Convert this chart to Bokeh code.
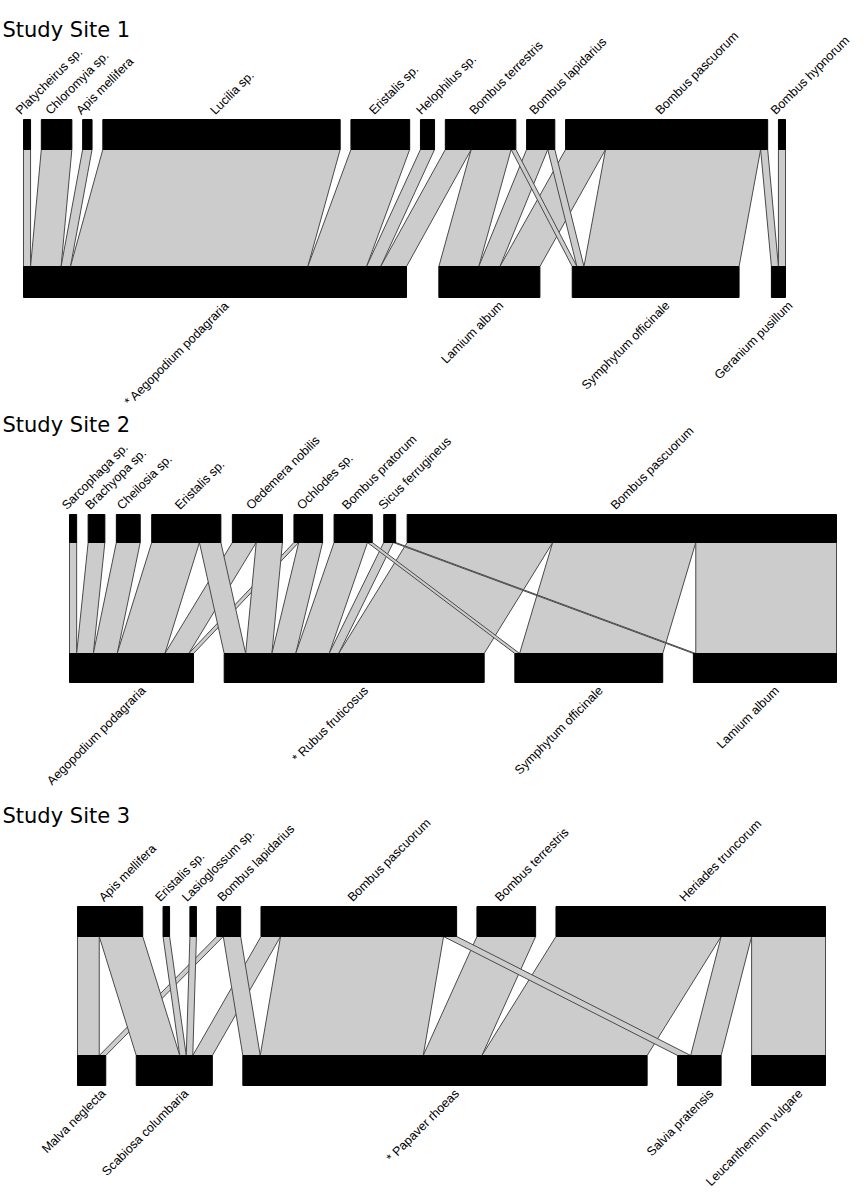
import numpy as np
from bokeh.plotting import figure
from bokeh.models import Range1d, ColumnDataSource
from bokeh.embed import file_html
from bokeh.resources import INLINE
from bokeh.core.properties import value

W, H = 851, 1188

# ---------------- data ----------------
site_titles = ["Study Site 1", "Study Site 2", "Study Site 3"]

site1_pollinators = ["Platycheirus sp.", "Chloromyia sp.", "Apis mellifera", "Lucilia sp.",
                     "Eristalis sp.", "Helophilus sp.", "Bombus terrestris", "Bombus lapidarius",
                     "Bombus pascuorum", "Bombus hypnorum"]
site1_plants = ["* Aegopodium podagraria", "Lamium album", "Symphytum officinale", "Geranium pusillum"]
# rows = plants, columns = pollinators (visits)
site1_visits = [
    [3, 13, 4, 101, 25, 6, 11, 0, 0, 0],
    [0, 0, 0, 0, 0, 0, 17, 9, 17, 0],
    [0, 0, 0, 0, 0, 0, 2, 3, 66, 0],
    [0, 0, 0, 0, 0, 0, 0, 0, 3, 3],
]

site2_pollinators = ["Sarcophaga sp.", "Brachyopa sp.", "Cheilosia sp.", "Eristalis sp.",
                     "Oedemera nobilis", "Ochlodes sp.", "Bombus pratorum", "Sicus ferrugineus",
                     "Bombus pascuorum"]
site2_plants = ["Aegopodium podagraria", "* Rubus fruticosus", "Symphytum officinale", "Lamium album"]
site2_visits = [
    [3, 7, 10, 20, 10, 2, 0, 0, 0],
    [0, 0, 0, 9, 11, 10, 14, 4, 61],
    [0, 0, 0, 0, 0, 0, 2, 0, 60],
    [0, 0, 0, 0, 0, 0, 0, 1, 59],
]

site3_pollinators = ["Apis mellifera", "Eristalis sp.", "Lasioglossum  sp.", "Bombus lapidarius",
                     "Bombus pascuorum", "Bombus terrestris", "Heriades truncorum"]
site3_plants = ["Malva neglecta", "Scabiosa columbaria", "* Papaver rhoeas", "Salvia pratensis",
                "Leucanthemum vulgare"]
site3_visits = [
    [10, 0, 0, 3, 0, 0, 0],
    [20, 3, 3, 0, 9, 0, 0],
    [0, 0, 0, 8, 75, 27, 76],
    [0, 0, 0, 0, 6, 0, 14],
    [0, 0, 0, 0, 0, 0, 34],
]

sites = [
    (site1_pollinators, site1_plants, site1_visits),
    (site2_pollinators, site2_plants, site2_visits),
    (site3_pollinators, site3_plants, site3_visits),
]

# ---------------- layout (styles / positions) ----------------
layouts = [
    dict(x0=23, x1=785, gap=97, up=(119, 149), lo=(266, 297), title_y=29),
    dict(x0=69, x1=836, gap=92, up=(514, 542), lo=(653, 682), title_y=424),
    dict(x0=77, x1=825, gap=122, up=(906, 936), lo=(1055, 1085), title_y=815),
]

LINK_FILL = "#cccccc"
LINK_LINE = "#4a4a4a"
BOX = "#000000"
LABEL_FONT = "Liberation Sans"
LABEL_SIZE = "12.5px"


def level_positions(totals, x0, x1, gap_total):
    totals = np.asarray(totals, float)
    n = len(totals)
    gap = gap_total / (n - 1) if n > 1 else 0
    scale = (x1 - x0 - gap_total) / totals.sum()
    widths = totals * scale
    starts = x0 + np.concatenate([[0], np.cumsum(widths[:-1] + gap)])
    return starts, widths, scale


p = figure(width=W, height=H, x_range=Range1d(0, W), y_range=Range1d(H, 0),
           output_backend="svg", toolbar_location=None, min_border=0,
           x_axis_type=None, y_axis_type=None)
p.grid.visible = False
p.outline_line_color = None
p.background_fill_color = "white"

for (poll, plants, visits), lay in zip(sites, layouts):
    M = np.asarray(visits, float)
    up_tot = M.sum(axis=0)
    lo_tot = M.sum(axis=1)
    us, uw, usc = level_positions(up_tot, lay["x0"], lay["x1"], lay["gap"])
    ls, lw, lsc = level_positions(lo_tot, lay["x0"], lay["x1"], lay["gap"])
    up_off = np.cumsum(M, axis=0) - M
    lo_off = np.cumsum(M, axis=1) - M
    yt = lay["up"][1]
    yb = lay["lo"][0]

    xs, ys = [], []
    for i in range(M.shape[0]):
        for j in range(M.shape[1]):
            v = M[i, j]
            if v <= 0:
                continue
            tx0 = us[j] + up_off[i, j] * usc
            tx1 = tx0 + v * usc
            bx0 = ls[i] + lo_off[i, j] * lsc
            bx1 = bx0 + v * lsc
            xs.append([tx0, tx1, bx1, bx0])
            ys.append([yt, yt, yb, yb])
    p.patches(xs=xs, ys=ys, fill_color=LINK_FILL, line_color=LINK_LINE, line_width=1)

    p.quad(left=us, right=us + uw, top=lay["up"][0], bottom=lay["up"][1],
           fill_color=BOX, line_color=BOX)
    p.quad(left=ls, right=ls + lw, top=lay["lo"][0], bottom=lay["lo"][1],
           fill_color=BOX, line_color=BOX)

    up_src = ColumnDataSource(dict(x=us + uw / 2 - 9, y=[lay["up"][0] - 7] * len(poll), t=poll))
    p.text(x="x", y="y", text="t", source=up_src, angle=45, angle_units="deg",
           text_align="left", text_baseline="alphabetic", text_font=value(LABEL_FONT),
           text_font_size=LABEL_SIZE, text_color="black")
    lo_src = ColumnDataSource(dict(x=ls + lw / 2 + 12, y=[lay["lo"][1] + 6] * len(plants), t=plants))
    p.text(x="x", y="y", text="t", source=lo_src, angle=45, angle_units="deg",
           text_align="right", text_baseline="alphabetic", text_font=value(LABEL_FONT),
           text_font_size=LABEL_SIZE, text_color="black")

title_src = ColumnDataSource(dict(x=[2, 2, 2], y=[l["title_y"] for l in layouts], t=site_titles))
p.text(x="x", y="y", text="t", source=title_src, text_align="left", text_baseline="alphabetic",
       text_font=value("DejaVu Sans"), text_font_size="21px", text_color="black")

open("out.html", "w").write(file_html(p, INLINE))
